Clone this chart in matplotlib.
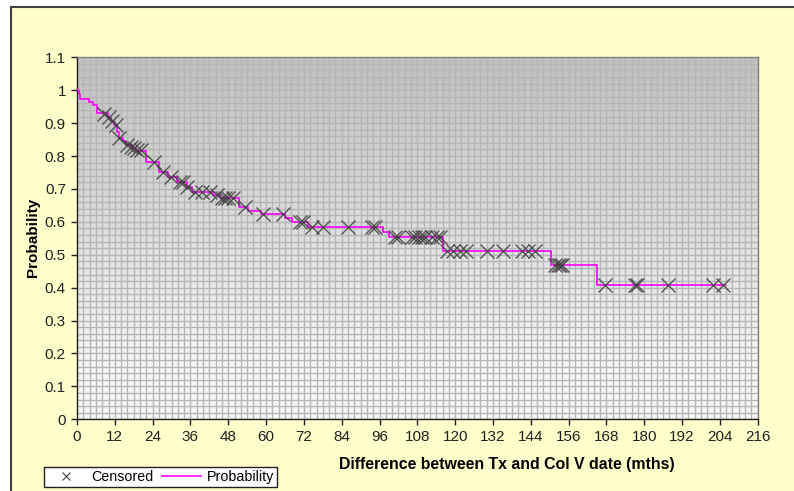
import numpy as np
import matplotlib
matplotlib.use("Agg")
import matplotlib.pyplot as plt
from matplotlib.colors import LinearSegmentedColormap
from matplotlib.lines import Line2D
from matplotlib.patches import Rectangle

plt.rcParams['font.family'] = ['Liberation Sans', 'DejaVu Sans']

# ---- data ----
step_times = [0, 0.5, 1.05, 3.9, 5.2, 6.2, 9.8, 10.8, 11.8, 12.8, 13.2, 14.5, 15.5,
              17.5, 18.6, 21.8, 26.1, 29.0, 31.6, 34.8, 36.4, 43.3, 45.4, 51.5, 54.3,
              58.5, 66.0, 68.1, 73.4, 97.1, 98.9, 116.2, 150.3, 164.9, 205.5]
step_probs = [1.0, 0.988, 0.972, 0.965, 0.954, 0.930, 0.918, 0.905, 0.893, 0.872, 0.856,
              0.845, 0.833, 0.824, 0.815, 0.783, 0.750, 0.737, 0.720, 0.705, 0.690, 0.681,
              0.672, 0.646, 0.634, 0.624, 0.611, 0.599, 0.585, 0.570, 0.555, 0.512, 0.468,
              0.407, 0.407]

censored_times = [8.6, 10.2, 11.1, 12.4, 13.3, 15.9, 17.1, 18.1, 19.0, 20.3, 24.4, 27.4,
                  29.8, 32.7, 33.7, 34.8, 37.4, 39.6, 42.2, 44.3, 45.9, 47.0, 48.0, 49.6,
                  53.3, 59.1, 65.5, 70.8, 71.8, 74.5, 78.2, 86.1, 93.5, 94.6, 100.9, 102.0,
                  106.2, 107.3, 108.4, 109.4, 110.5, 112.6, 114.2, 115.2, 117.3, 119.4,
                  121.5, 123.4, 130.0, 135.3, 141.1, 143.2, 145.4, 151.7, 152.5, 153.3,
                  154.0, 167.6, 177.1, 177.8, 187.5, 201.9, 205.1]
censored_probs = [0.928, 0.918, 0.905, 0.893, 0.856, 0.833, 0.828, 0.824, 0.818, 0.818,
                  0.783, 0.750, 0.737, 0.720, 0.720, 0.705, 0.690, 0.690, 0.690, 0.681,
                  0.672, 0.672, 0.672, 0.672, 0.646, 0.624, 0.624, 0.599, 0.599, 0.585,
                  0.585, 0.585, 0.585, 0.585, 0.555, 0.555, 0.555, 0.555, 0.555, 0.555,
                  0.555, 0.555, 0.555, 0.555, 0.512, 0.512, 0.512, 0.512, 0.512, 0.512,
                  0.512, 0.512, 0.512, 0.468, 0.468, 0.468, 0.468, 0.407, 0.407, 0.407,
                  0.407, 0.407, 0.407]

x_ticks = list(range(0, 217, 12))
y_ticks = [0, 0.1, 0.2, 0.3, 0.4, 0.5, 0.6, 0.7, 0.8, 0.9, 1.0, 1.1]
y_tick_labels = ['0', '0.1', '0.2', '0.3', '0.4', '0.5', '0.6', '0.7', '0.8', '0.9', '1', '1.1']

W, H = 794, 491
fig = plt.figure(figsize=(W / 100, H / 100), dpi=100)
fig.patch.set_facecolor('white')

# yellow chart area with border
bg = Rectangle((11 / W, -0.05), 1.2, 1 - 7 / H + 0.05, transform=fig.transFigure,
               facecolor='#ffffcc', edgecolor='#404040', linewidth=1.5, zorder=-10)
fig.add_artist(bg)

ax = fig.add_axes([77 / W, 1 - 419.3 / H, (757.7 - 77) / W, (419.3 - 57.3) / H])
ax.set_zorder(1)

# gradient background
grad_cmap = LinearSegmentedColormap.from_list(
    'g', [(0.0, '#f7f7f7'), (0.15, '#f7f7f7'), (0.45, '#e3e3e3'), (1.0, '#c0c0c0')])
grad = np.linspace(0, 1, 256).reshape(-1, 1)
ax.imshow(grad, extent=[0, 216, 0, 1.1], origin='lower', aspect='auto', cmap=grad_cmap,
          zorder=0, interpolation='bilinear')

ax.set_xlim(0, 216)
ax.set_ylim(0, 1.1)
ax.set_xticks(x_ticks)
ax.set_xticks(np.arange(0, 217, 2), minor=True)
ax.set_yticks(y_ticks)
ax.set_yticklabels(y_tick_labels)
ax.set_yticks(np.arange(0, 1.1001, 0.02), minor=True)
ax.set_axisbelow(True)
ax.grid(which='both', color='#b6b6b6', linewidth=1.0)
ax.tick_params(which='minor', length=0)
ax.tick_params(which='major', direction='out', length=4, width=1, color='#202020',
               labelsize=11, labelcolor='#202020', pad=4)

for s in ['left', 'bottom']:
    ax.spines[s].set_color('#202020')
    ax.spines[s].set_linewidth(1.0)
for s in ['top', 'right']:
    ax.spines[s].set_color('#808080')
    ax.spines[s].set_linewidth(1.0)

ax.plot(step_times, step_probs, drawstyle='steps-post', color='#ff00ff', linewidth=1.2, zorder=3)
ax.plot(censored_times, censored_probs, linestyle='none', marker='x', markersize=9.5,
        markeredgewidth=1.0, color='#404040', alpha=0.85, zorder=4)

fig.text(33 / W, 1 - 237 / H, 'Probability', rotation=90, ha='center', va='center',
         fontsize=11, fontweight='bold')
fig.text(507 / W, 1 - 465 / H, 'Difference between Tx and Col V date (mths)', ha='center',
         va='center', fontsize=11.4, fontweight='bold')

handles = [Line2D([], [], linestyle='none', marker='x', markersize=6, markeredgewidth=0.8,
                  color='#404040'),
           Line2D([], [], color='#ff00ff', linewidth=1.2)]
leg = fig.legend(handles, ['Censored', 'Probability'], loc='lower left',
                 bbox_to_anchor=(44 / W, 1 - 487 / H), ncol=2, frameon=True, fancybox=False,
                 edgecolor='#202020', facecolor='white', framealpha=1, fontsize=10.3,
                 borderpad=0.2, handlelength=2.7, handletextpad=0.4, columnspacing=0.6,
                 borderaxespad=0)
leg.get_frame().set_linewidth(1.0)

fig.savefig('out.png', dpi=100)
